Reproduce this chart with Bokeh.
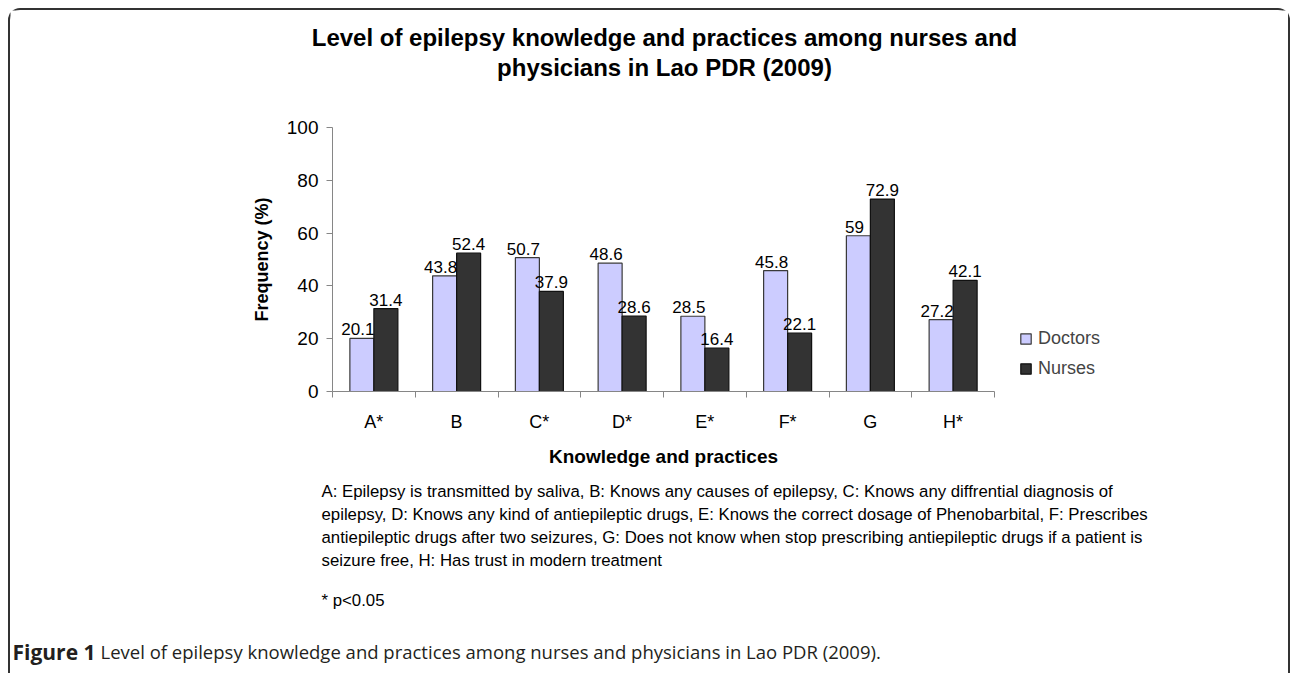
import numpy as np
from bokeh.plotting import figure
from bokeh.layouts import column
from bokeh.models import Range1d, FixedTicker, Label, Legend, LegendItem, CustomJSTickFormatter
from bokeh.core.properties import value
from bokeh.embed import file_html
from bokeh.resources import INLINE

# ---------------- data ----------------
categories = ["A*", "B", "C*", "D*", "E*", "F*", "G", "H*"]
doctors = [20.1, 43.8, 50.7, 48.6, 28.5, 45.8, 59, 27.2]
nurses = [31.4, 52.4, 37.9, 28.6, 16.4, 22.1, 72.9, 42.1]
series_names = ["Doctors", "Nurses"]
y_ticks = [0, 20, 40, 60, 80, 100]

title_lines = [
    "Level of epilepsy knowledge and practices among nurses and",
    "physicians in Lao PDR (2009)",
]
x_label = "Knowledge and practices"
y_label = "Frequency (%)"
footnote_lines = [
    "A: Epilepsy is transmitted by saliva, B: Knows any causes of epilepsy, C: Knows any diffrential diagnosis of",
    "epilepsy, D: Knows any kind of antiepileptic drugs, E: Knows the correct dosage of Phenobarbital, F: Prescribes",
    "antiepileptic drugs after two seizures, G: Does not know when stop prescribing antiepileptic drugs if a patient is",
    "seizure free, H: Has trust in modern treatment",
]
significance_note = "* p<0.05"
caption_bold = "Figure 1"
caption_text = "Level of epilepsy knowledge and practices among nurses and physicians in Lao PDR (2009)."

FONT = "Liberation Sans"
W = 1278


def text_figure(h):
    f = figure(width=W, height=h, x_range=Range1d(0, W), y_range=Range1d(0, h),
               x_axis_type=None, y_axis_type=None, output_backend="svg",
               toolbar_location=None, min_border=0, frame_align=False)
    f.outline_line_color = None
    f.background_fill_color = "white"
    f.border_fill_color = "white"
    return f


def add_label(f, x, y, text, size, style="normal", font=FONT, align="left", color="black"):
    f.add_layout(Label(x=x, y=y, x_units="screen", y_units="screen", text=text,
                       text_font=font, text_font_size=size, text_font_style=style,
                       text_align=align, text_baseline="middle", text_color=color))


# ---------------- title ----------------
top = text_figure(102)
for t, ty in zip(title_lines, [75, 45]):
    add_label(top, 654, ty, t, "24px", style="bold", align="center")

# ---------------- chart ----------------
n = len(categories)
axis_px = 662                     # width of the category axis
left_px = 322
frame_px = W - left_px            # plot frame also holds the legend area
x_end = n * frame_px / axis_px    # so that the 8 categories span axis_px
p = figure(
    width=W, height=328, frame_width=frame_px, frame_height=264,
    x_range=Range1d(0, x_end), y_range=Range1d(0, 100),
    output_backend="svg", toolbar_location=None,
    min_border_left=left_px, min_border_right=0,
    min_border_top=15, min_border_bottom=49,
    frame_align=False,
)
p.outline_line_color = None
p.grid.visible = False
p.background_fill_color = "white"
p.border_fill_color = "white"

xc = np.arange(n) + 0.5
bw = 0.29

r_doc = p.vbar(x=xc - bw / 2, top=doctors, width=bw,
               fill_color="#CCCCFF", line_color="#3a3a3a", line_width=1.2)
r_nur = p.vbar(x=xc + bw / 2, top=nurses, width=bw,
               fill_color="#333333", line_color="#111111", line_width=1.2)

fmt = lambda v: f"{v:g}"
p.text(x=xc - bw / 2, y=doctors, text=[fmt(v) for v in doctors],
       text_font=value(FONT), text_font_size="17px", text_color="black",
       text_align="center", text_baseline="bottom", x_offset=-4, y_offset=-3)
p.text(x=xc + bw / 2, y=nurses, text=[fmt(v) for v in nurses],
       text_font=value(FONT), text_font_size="17px", text_color="black",
       text_align="center", text_baseline="bottom", y_offset=-3)

ax_col = "#868686"
xa = p.xaxis[0]
xa.bounds = (0, n)
xa.ticker = FixedTicker(ticks=list(xc), minor_ticks=list(range(n + 1)))
xa.formatter = CustomJSTickFormatter(args=dict(cats=categories),
                                     code="return cats[Math.floor(tick)];")
xa.axis_line_color = ax_col
xa.major_tick_out = 0
xa.major_tick_in = 0
xa.minor_tick_out = 6
xa.minor_tick_in = 0
xa.minor_tick_line_color = ax_col
xa.major_label_standoff = 14
xa.major_label_text_font = FONT
xa.major_label_text_font_size = "18px"
xa.major_label_text_color = "black"

ya = p.yaxis[0]
ya.ticker = FixedTicker(ticks=y_ticks)
ya.axis_line_color = ax_col
ya.major_tick_line_color = ax_col
ya.major_tick_out = 6
ya.major_tick_in = 0
ya.minor_tick_line_color = None
ya.major_label_standoff = 8
ya.major_label_text_font = FONT
ya.major_label_text_font_size = "19px"
ya.major_label_text_color = "black"
ya.axis_label = y_label
ya.axis_label_text_font = FONT
ya.axis_label_text_font_style = "bold"
ya.axis_label_text_font_size = "18px"
ya.axis_label_text_color = "black"
ya.axis_label_standoff = 12

legend = Legend(
    items=[LegendItem(label=series_names[0], renderers=[r_doc]),
           LegendItem(label=series_names[1], renderers=[r_nur])],
    location=(axis_px + 25, 12), border_line_color=None, background_fill_alpha=0,
    padding=0, margin=0, spacing=9, glyph_width=13, glyph_height=13,
    label_text_font=FONT, label_text_font_size="18px", label_standoff=6,
    label_height=20,
)
p.add_layout(legend)

# ---------------- x-axis title, footnotes & caption ----------------
bottom = text_figure(233)
add_label(bottom, left_px + axis_px / 2, 217, x_label, "19px", style="bold", align="center")
for t, fy in zip(footnote_lines, [182, 159, 136, 113]):
    add_label(bottom, 311, fy, t, "16.8px")
add_label(bottom, 311, 73, significance_note, "16.8px")
add_label(bottom, 2, 22, caption_bold, "21px", style="bold", font="Open Sans", color="#231f20")
add_label(bottom, 90, 22, caption_text, "18.5px", font="Open Sans", color="#231f20")

layout = column(top, p, bottom, spacing=0)
layout.styles = {
    "margin-left": "8px",
    "margin-top": "8px",
    "border-left": "2px solid #333333",
    "border-top": "2px solid #333333",
    "border-right": "2px solid #333333",
    "border-top-left-radius": "12px",
    "border-top-right-radius": "12px",
}

open("out.html", "w").write(file_html(layout, INLINE))
